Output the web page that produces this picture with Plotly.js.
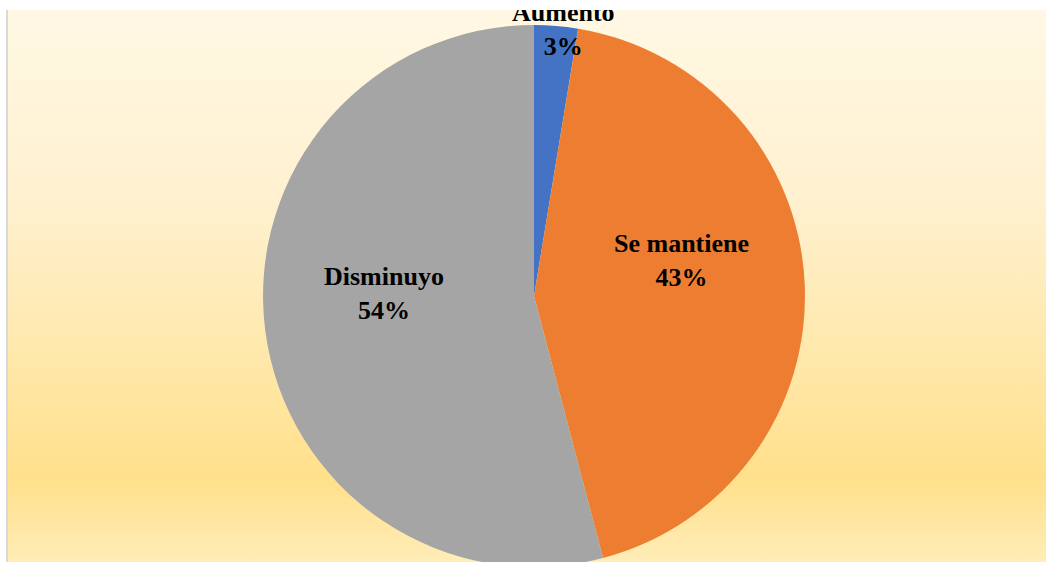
<!DOCTYPE html>
<html>
<head>
<meta charset="utf-8">
<script src="https://cdn.plot.ly/plotly-3.0.1.min.js"></script>
<style>
  html, body { margin: 0; padding: 0; background: #ffffff; width: 1046px; height: 562px; overflow: hidden; }
  #frame { position: absolute; left: 6px; top: 10px; width: 2px; height: 552px; background: #d9d9d9; }
  #clip { position: absolute; left: 8px; top: 10px; width: 1038px; height: 552px; overflow: hidden;
    background: linear-gradient(to bottom, #FFF8E4 0%, #FFF1CF 35%, #FFE7A8 65%, #FFE08B 85%, #FFEDB8 100%); }
  #chart { position: absolute; left: 0; top: 0; width: 1038px; height: 570px; }
</style>
</head>
<body>
<div id="frame"></div>
<div id="clip"><div id="chart"></div></div>
<script>
const categories = ["Aumento", "Se mantiene", "Disminuyo"];
const values = [2.6, 43.3, 54.1];
const percentLabels = ["3%", "43%", "54%"];
const colors = ["#4472C4", "#ED7D31", "#A5A5A5"];
const labelPos = [[0.5356, 0.965], [0.6484, 0.561], [0.3622, 0.503]];

const trace = {
  type: "pie",
  labels: categories,
  values: values,
  sort: false,
  direction: "clockwise",
  rotation: 0,
  marker: { colors: colors, line: { width: 0 } },
  textinfo: "none",
  hoverinfo: "label+percent",
  domain: { x: [0.2457, 0.7678], y: [0.0228, 0.9737] },
  showlegend: false
};

const annotations = categories.map((c, i) => ({
  xref: "paper", yref: "paper",
  x: labelPos[i][0], y: labelPos[i][1],
  xanchor: "center", yanchor: "middle",
  text: c + "<br>" + percentLabels[i],
  showarrow: false,
  font: { family: "Liberation Serif, Times New Roman, serif", size: 26, color: "#000000", weight: "bold" }
}));

const layout = {
  width: 1038, height: 570,
  margin: { l: 0, r: 0, t: 0, b: 0 },
  paper_bgcolor: "rgba(0,0,0,0)",
  plot_bgcolor: "rgba(0,0,0,0)",
  annotations: annotations
};

Plotly.newPlot("chart", [trace], layout, { displayModeBar: false, staticPlot: true });
</script>
</body>
</html>
